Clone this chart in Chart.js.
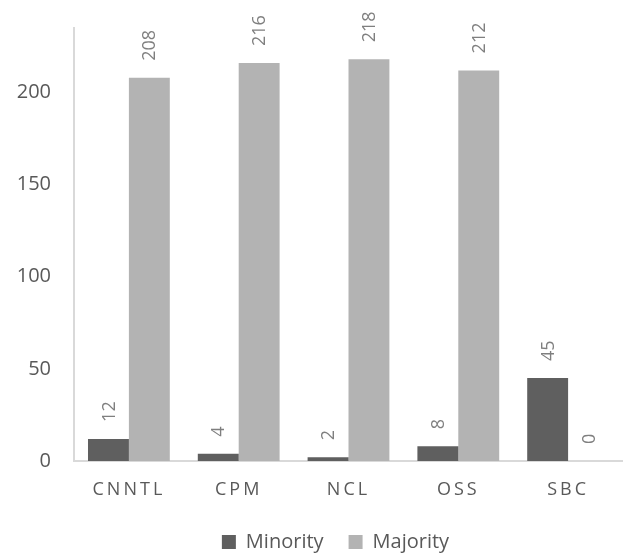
<!DOCTYPE html>
<html>
<head>
<meta charset="utf-8">
<script src="https://cdn.jsdelivr.net/npm/chart.js@4/dist/chart.umd.min.js"></script>
<style>
  html, body { margin: 0; padding: 0; background: #ffffff; }
  #wrap { width: 623px; height: 554px; }
</style>
</head>
<body>
<div id="wrap"><canvas id="chart" width="623" height="554"></canvas></div>
<script>
// Staff counts by unit
const categories = ['CNNTL', 'CPM', 'NCL', 'OSS', 'SBC'];
const minority = [12, 4, 2, 8, 45];
const majority = [208, 216, 218, 212, 0];
const yTicks = [0, 50, 100, 150, 200];

const FONT = "'Open Sans', 'Noto Sans', sans-serif";
const TEXT_GREY = '#595959';

// Vertical value labels above each bar
const barValueLabels = {
  id: 'barValueLabels',
  afterDatasetsDraw(chart) {
    const ctx = chart.ctx;
    ctx.save();
    ctx.font = '18px ' + FONT;
    ctx.fillStyle = '#7f7f7f';
    ctx.textAlign = 'left';
    ctx.textBaseline = 'middle';
    chart.data.datasets.forEach((ds, di) => {
      const meta = chart.getDatasetMeta(di);
      meta.data.forEach((bar, i) => {
        ctx.save();
        ctx.translate(bar.x + 1, bar.y - 17);
        ctx.rotate(-Math.PI / 2);
        ctx.fillText(String(ds.data[i]), 0, 0);
        ctx.restore();
      });
    });
    ctx.restore();
  }
};

// Letter-spaced category labels and legend placement under the plot
const layoutTweaks = {
  id: 'layoutTweaks',
  afterLayout(chart) {
    const lg = chart.legend;
    if (lg) {
      lg.left += 24; lg.right += 24;
      lg.top += 8; lg.bottom += 8;
    }
    const xs = chart.scales.x;
    if (xs && !xs._spacedLabels) {
      const orig = xs.drawLabels;
      xs.drawLabels = function (area) {
        const c = this.ctx;
        const prev = c.letterSpacing;
        c.letterSpacing = '3px';
        orig.call(this, area);
        c.letterSpacing = prev || '0px';
      };
      xs._spacedLabels = true;
    }
  }
};

new Chart(document.getElementById('chart'), {
  type: 'bar',
  data: {
    labels: categories,
    datasets: [
      {
        label: 'Minority',
        data: minority,
        backgroundColor: '#5f5f5f',
        borderColor: '#5f5f5f',
        borderWidth: 0,
        categoryPercentage: 0.745,
        barPercentage: 1.0
      },
      {
        label: 'Majority',
        data: majority,
        backgroundColor: '#b3b3b3',
        borderColor: '#b3b3b3',
        borderWidth: 0,
        categoryPercentage: 0.745,
        barPercentage: 1.0
      }
    ]
  },
  options: {
    responsive: false,
    animation: false,
    layout: { padding: { top: 28, right: 0, bottom: 0, left: 0 } },
    plugins: {
      legend: {
        position: 'bottom',
        labels: {
          boxWidth: 14,
          boxHeight: 14,
          padding: 25,
          color: TEXT_GREY,
          font: { family: FONT, size: 20 }
        }
      },
      tooltip: { enabled: false }
    },
    scales: {
      x: {
        z: 1,
        grid: { display: false, drawTicks: false },
        border: { display: true, color: '#d9d9d9', width: 2 },
        ticks: {
          color: TEXT_GREY,
          font: { family: FONT, size: 18 },
          padding: 18,
          maxRotation: 0
        },
        afterFit(scale) { scale.height = 38; }
      },
      y: {
        min: 0,
        max: 235,
        grid: { display: false, drawTicks: false },
        border: { display: true, color: '#d9d9d9', width: 2 },
        ticks: {
          stepSize: 50,
          color: TEXT_GREY,
          font: { family: FONT, size: 20 },
          padding: 23
        },
        afterBuildTicks(scale) {
          scale.ticks = yTicks.map(v => ({ value: v }));
        },
        afterFit(scale) {
          scale.width = 74;
          scale.paddingTop = 0;
          scale.paddingBottom = 0;
        }
      }
    }
  },
  plugins: [barValueLabels, layoutTweaks]
});
</script>
</body>
</html>
